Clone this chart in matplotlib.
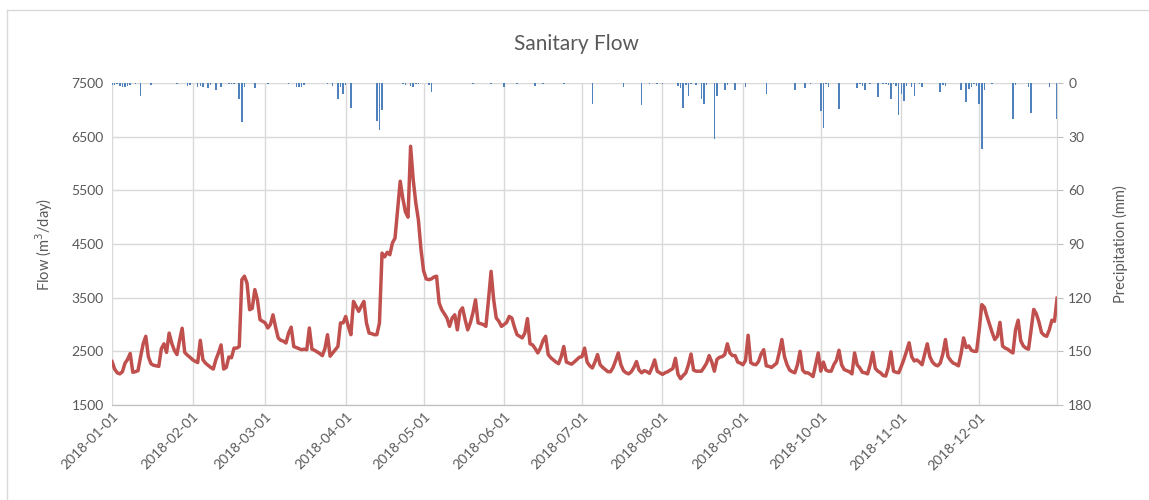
import numpy as np
import pandas as pd
import matplotlib
matplotlib.use("Agg")
import matplotlib.pyplot as plt
import matplotlib.dates as mdates
from matplotlib.lines import Line2D

plt.rcParams['font.family'] = ['Lato', 'DejaVu Sans']

# daily sanitary flow (m3/day), one list per month of 2018
flow_jan = [2310, 2170, 2100, 2080, 2120, 2280, 2350, 2460, 2110, 2120, 2140, 2400, 2640, 2780, 2400, 2270,
            2240, 2230, 2220, 2550, 2640, 2480, 2840, 2650, 2520, 2440, 2700, 2930, 2480, 2430, 2390]
flow_feb = [2345, 2315, 2290, 2705, 2345, 2280, 2240, 2200, 2170, 2345, 2470, 2620, 2170, 2200, 2395, 2380,
            2560, 2560, 2590, 3835, 3900, 3770, 3275, 3300, 3650, 3460, 3090, 3060]
flow_mar = [3030, 2935, 3000, 3180, 2950, 2750, 2705, 2690, 2655, 2840, 2950, 2590, 2570, 2550, 2530, 2540,
            2530, 2935, 2540, 2520, 2490, 2460, 2420, 2550, 2810, 2410, 2470, 2530, 2590, 3030, 3030]
flow_apr = [3150, 2966, 2810, 3430, 3340, 3245, 3340, 3430, 3030, 2840, 2830, 2810, 2810, 3030, 4330, 4260,
            4345, 4300, 4520, 4610, 5140, 5670, 5350, 5100, 5000, 6320, 5700, 5265, 4950, 4400]
flow_may = [4000, 3850, 3835, 3850, 3885, 3900, 3400, 3275, 3200, 3120, 2965, 3120, 3180, 2900, 3245, 3310,
            3090, 2900, 3030, 3215, 3460, 3030, 3015, 3000, 2965, 3460, 3990, 3460, 3120, 3060, 2965]
flow_jun = [3000, 3040, 3150, 3120, 2950, 2810, 2780, 2750, 2840, 3110, 2640, 2620, 2550, 2470, 2560, 2700,
            2780, 2440, 2380, 2340, 2300, 2270, 2400, 2590, 2300, 2280, 2260, 2300, 2345, 2390]
flow_jul = [2400, 2560, 2300, 2230, 2190, 2300, 2440, 2250, 2200, 2160, 2120, 2120, 2200, 2330, 2470, 2250,
            2140, 2100, 2080, 2120, 2200, 2310, 2150, 2100, 2140, 2120, 2090, 2200, 2340, 2130, 2100]
flow_aug = [2070, 2100, 2120, 2150, 2180, 2370, 2070, 1990, 2050, 2100, 2250, 2450, 2150, 2130, 2130, 2130,
            2200, 2280, 2420, 2300, 2130, 2350, 2390, 2400, 2440, 2640, 2470, 2420, 2420, 2300, 2280]
flow_sep = [2250, 2330, 2800, 2290, 2260, 2250, 2310, 2450, 2530, 2230, 2220, 2200, 2240, 2280, 2480, 2720,
            2400, 2250, 2150, 2120, 2100, 2250, 2500, 2150, 2100, 2100, 2070, 2030, 2250, 2470]
flow_oct = [2130, 2300, 2150, 2130, 2130, 2250, 2330, 2520, 2250, 2160, 2140, 2120, 2080, 2470, 2250, 2190,
            2110, 2100, 2080, 2250, 2480, 2180, 2130, 2100, 2050, 2040, 2200, 2490, 2130, 2110, 2100]
flow_nov = [2220, 2350, 2500, 2660, 2400, 2320, 2340, 2300, 2250, 2450, 2640, 2400, 2300, 2250, 2230, 2280,
            2450, 2720, 2400, 2330, 2280, 2260, 2230, 2450, 2750, 2570, 2600, 2520, 2500, 2500]
flow_dec = [2900, 3370, 3320, 3150, 3000, 2850, 2720, 2780, 3040, 2600, 2560, 2540, 2500, 2470, 2900, 3080,
            2700, 2600, 2560, 2540, 2900, 3280, 3200, 3050, 2850, 2800, 2780, 2900, 3080, 3060, 3490]

# precipitation (mm): day of year (0 = Jan 1) and amount
rain_day = [0, 1, 2, 3, 4, 5, 6, 7, 9, 11, 15, 25, 29, 30, 33, 34, 35, 37, 38, 40, 42, 45, 46, 47, 49, 50, 51, 55,
            60, 68, 71, 72, 73, 74, 83, 85, 87, 88, 89, 90, 92, 102, 103, 104, 112, 113, 115, 116, 117, 118, 122,
            123, 139, 146, 151, 156, 163, 166, 174, 185, 197, 204, 207, 210, 212, 218, 219, 220, 221, 222, 223,
            225, 227, 228, 229, 232, 233, 236, 237, 240, 244, 252, 263, 267, 269, 273, 274, 275, 276, 280, 287,
            288, 289, 290, 292, 295, 297, 298, 299, 300, 301, 302, 303, 304, 305, 306, 308, 309, 311, 312, 319,
            320, 321, 327, 329, 330, 331, 332, 333, 334, 335, 336, 339, 347, 348, 353, 354, 361, 364]
rain_mm = [1, 1.2, 0.8, 1.5, 2, 2.5, 1.5, 1, 0.8, 7.3, 1, 0.8, 1.5, 1.2, 2, 1.5, 2, 3, 1, 4, 2, 0.8, 0.8, 0.8, 9, 22, 2, 3,
           0.7, 0.8, 2.5, 2.5, 2, 1, 0.8, 1.8, 9, 2.5, 6, 1, 14, 21, 26, 15, 0.8, 1.3, 1.5, 2, 0.8, 0.8, 1.3,
           5, 0.8, 0.8, 2, 0.8, 1.7, 0.8, 0.8, 11.5, 2, 12.5, 0.8, 0.8, 0.8, 1.7, 2.6, 14, 1.3, 7, 0.8,
           1.3, 9, 11.5, 1.3, 31.5, 7, 4, 1.3, 4, 2, 6, 4, 3, 0.8, 15.6, 25, 0.8, 2, 14.7, 3,
           0.8, 1.7, 4, 0.8, 8, 0.8, 0.8, 1.3, 9, 0.8, 1.7, 18, 6, 10, 1.7, 2, 7, 0.8, 2, 5,
           1.3, 1.7, 4, 10.6, 3.5, 2.5, 0.8, 1.7, 12, 37, 4, 0.8, 20, 1.3, 2, 16.6, 2, 20]

flow = np.concatenate([flow_jan, flow_feb, flow_mar, flow_apr, flow_may, flow_jun,
                       flow_jul, flow_aug, flow_sep, flow_oct, flow_nov, flow_dec])
dates = pd.date_range('2018-01-01', periods=len(flow), freq='D')
rain_dates = pd.Timestamp('2018-01-01') + pd.to_timedelta(rain_day, unit='D')

TEXT = '#595959'
GRID = '#D9D9D9'

fig = plt.figure(figsize=(11.49, 5.0), dpi=100)
ax = fig.add_axes([0.0975, 0.19, 0.8225, 0.644])
ax2 = ax.twinx()

ax2.bar(rain_dates, rain_mm, width=0.6, color='#4F81BD', zorder=2)
ax.plot(dates, flow, color='#C0504D', lw=2.5, zorder=3)

ax.set_xlim(pd.Timestamp('2018-01-01'), pd.Timestamp('2018-12-31'))
ax.set_ylim(1500, 7500)
ax.set_yticks(np.arange(1500, 7501, 1000))
ax2.set_ylim(180, 0)
ax2.set_yticks(np.arange(0, 181, 30))

ax.xaxis.set_major_locator(mdates.MonthLocator())
ax.xaxis.set_major_formatter(mdates.DateFormatter('%Y-%m-%d'))
for lbl in ax.get_xticklabels():
    lbl.set_rotation(45)
    lbl.set_ha('right')
    lbl.set_va('top')
    lbl.set_rotation_mode('anchor')

ax.grid(True, color=GRID, lw=1)
ax.set_axisbelow(True)
ax.tick_params(axis='both', length=0, colors=TEXT, labelsize=10, pad=6)
ax.tick_params(axis='x', pad=4)
ax2.tick_params(axis='y', length=4, color='#BFBFBF', colors=TEXT, labelsize=10, pad=4)
for a in (ax, ax2):
    for side in ('top', 'left'):
        a.spines[side].set_visible(False)
    a.spines['right'].set_color(GRID)
    a.spines['bottom'].set_color('#BFBFBF')

ax.set_ylabel('Flow (m$^3$/day)', color=TEXT, fontsize=10.5, labelpad=12)
ax2.set_ylabel('Precipitation (mm)', color=TEXT, fontsize=10.5, labelpad=15)
fig.text(0.502, 0.912, 'Sanitary Flow', ha='center', va='center', fontsize=15, color=TEXT)

# chart area border
fig.add_artist(Line2D([0.006, 0.006], [0.0, 0.98], color=GRID, lw=1, transform=fig.transFigure))
fig.add_artist(Line2D([0.006, 1.0], [0.98, 0.98], color=GRID, lw=1, transform=fig.transFigure))

fig.savefig('out.png', dpi=100)
